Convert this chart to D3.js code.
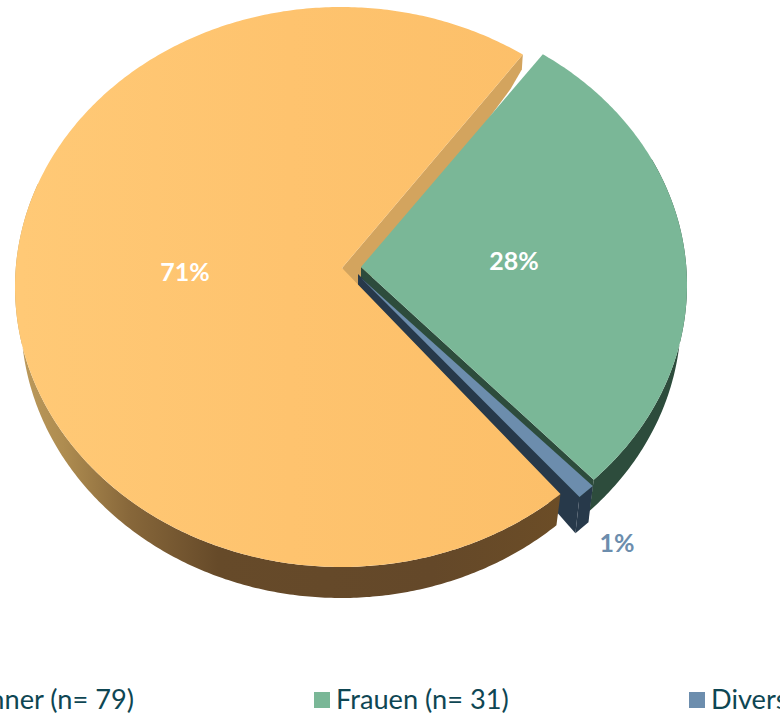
<!DOCTYPE html>
<html><head><meta charset="utf-8">
<style>html,body{margin:0;padding:0;background:#fff;overflow:hidden}svg{display:block}</style>
<script src="https://cdn.jsdelivr.net/npm/d3@7"></script></head>
<body><svg id="c" width="780" height="714"></svg>
<script>
const categories = ["Männer (n= 79)", "Frauen (n= 31)", "Divers (n= 1)"];
const seriesValues = [79, 31, 1];
const percentLabels = ["71%", "28%", "1%"];
const topColors = ["#FDC26D", "#7AB797", "#6C8DAD"];
const wallColors = ["#D3A45E", "#2D4C3C", "#27394A"];
const labelColors = ["#ffffff", "#ffffff", "#6C8DAD"];

const svg = d3.select("#c");
const defs = svg.append("defs");
const g1 = defs.append("linearGradient").attr("id","sideO").attr("gradientUnits","userSpaceOnUse")
  .attr("x1",20).attr("y1",0).attr("x2",570).attr("y2",0);
[[0,"#BC9A5C"],[0.08,"#AE8C50"],[0.2,"#87673A"],[0.36,"#664A29"],[0.75,"#644829"],[1,"#6C4D26"]].forEach(s=>g1.append("stop").attr("offset",s[0]).attr("stop-color",s[1]));
const g2 = defs.append("linearGradient").attr("id","topO").attr("gradientUnits","userSpaceOnUse")
  .attr("x1",20).attr("y1",0).attr("x2",560).attr("y2",0);
[[0,"#FFC976"],[0.5,"#FEC36E"],[1,"#FCBF69"]].forEach(s=>g2.append("stop").attr("offset",s[0]).attr("stop-color",s[1]));

const bottomRx = 320;
// each exploded slice: ellipse centre and radii, apex of the top face, extrusion depth
const geo = [
  {cx:341, cy:287, rx:326, ry:280, ax:342, ay:268, depth:32},
  {cx:361, cy:285, rx:326, ry:278, ax:361, ay:267, depth:32},
  {cx:360, cy:290, rx:326, ry:280, ax:361, ay:278, depth:37}
];
function pt(g, t, bottom){
  const Rx = bottom? bottomRx : g.rx, Ry = bottom? g.ry-1 : g.ry, dy = bottom? g.depth : 0;
  return [g.cx + Rx*Math.sin(t), g.cy + dy - Ry*Math.cos(t)];
}
function arcPts(g, a0, a1, bottom){
  const n = Math.max(2, Math.ceil(Math.abs(a1-a0)/0.01));
  return d3.range(n+1).map(i=>pt(g, a0+(a1-a0)*i/n, bottom));
}
const line = d3.line();
// d3.pie in the order green, blue, orange, rotated to the reference's first-slice angle
const greenStart = 33.9*Math.PI/180;
const pie = d3.pie().sort(null).startAngle(greenStart).endAngle(greenStart+2*Math.PI);
const arcs = pie([seriesValues[1],seriesValues[2],seriesValues[0]]);
const ang = [[arcs[2].startAngle,arcs[2].endAngle],[arcs[0].startAngle,arcs[0].endAngle],[arcs[1].startAngle,arcs[1].endAngle]];

function outerSide(i, a0, a1, fill){
  const g = geo[i];
  const pts = arcPts(g,a0,a1,false).concat(arcPts(g,a1,a0,true));
  svg.append("path").attr("d",line(pts)+"Z").attr("fill",fill);
}
// Orange cut wall, upper edge
{
  const g = geo[0], t=pt(g,ang[0][1],false);
  svg.append("path").attr("d",line([[g.ax,g.ay],t,[t[0]-1,t[1]+15],[t[0]-12,t[1]+34],[g.ax+16,g.ay+27]])+"Z").attr("fill",wallColors[0]);
}
// Green: side + wall + top
{
  const g=geo[1], e=pt(g,ang[1][1],false), eb=pt(g,ang[1][1],true);
  outerSide(1, Math.PI*0.35, ang[1][1], wallColors[1]);
  svg.append("path").attr("d",line([[g.ax,g.ay],e,eb,[g.ax,g.ay+13]])+"Z").attr("fill",wallColors[1]);
  svg.append("path").attr("d",line([[g.ax,g.ay]].concat(arcPts(g,ang[1][0],ang[1][1],false)))+"Z").attr("fill",topColors[1]);
}
// Blue: navy wall + side + top
{
  const g=geo[2], s=pt(g,ang[2][1],false), sb=pt(g,ang[2][1],true), e=pt(g,ang[2][0],false), eb=pt(g,ang[2][0],true);
  svg.append("path").attr("d",line([[g.ax-3,g.ay-4],s,sb,[g.ax-3,g.ay+8]])+"Z").attr("fill",wallColors[2]);
  svg.append("path").attr("d",line([s,e,eb,sb])+"Z").attr("fill",wallColors[2]);
  svg.append("path").attr("d",line([[g.ax,g.ay],e,s])+"Z").attr("fill",topColors[2]);
}
// Orange side + top drawn in front
outerSide(0, ang[0][0], Math.PI*1.62, "url(#sideO)");
{
  const g=geo[0];
  svg.append("path").attr("d",line([[g.ax,g.ay]].concat(arcPts(g,ang[0][0],ang[0][1],false)))+"Z").attr("fill","url(#topO)");
}
// labels
const labelX = d3.scaleOrdinal().domain(categories).range([185,514,617]);
const labelY = d3.scaleOrdinal().domain(categories).range([271,260,542]);
svg.selectAll("text.p").data(categories).join("text").attr("class","p")
  .attr("x",d=>labelX(d)).attr("y",d=>labelY(d)).attr("text-anchor","middle").attr("dominant-baseline","central")
  .attr("font-family","Lato, 'Open Sans', sans-serif").attr("font-weight",700).attr("font-size",25)
  .attr("fill",(d,i)=>labelColors[i]).text((d,i)=>percentLabels[i]);
// legend
const legendX = d3.scaleOrdinal().domain(categories).range([-71,314,689]);
const legend = svg.selectAll("g.l").data(categories).join("g").attr("class","l")
  .attr("transform",d=>`translate(${legendX(d)},692)`);
legend.append("rect").attr("width",16).attr("height",16).attr("fill",(d,i)=>topColors[i]);
legend.append("text").attr("x",22).attr("y",17).attr("font-family","Lato, 'Open Sans', sans-serif").attr("font-size",27.2).attr("fill","#0E4653").text(d=>d);
</script></body></html>
